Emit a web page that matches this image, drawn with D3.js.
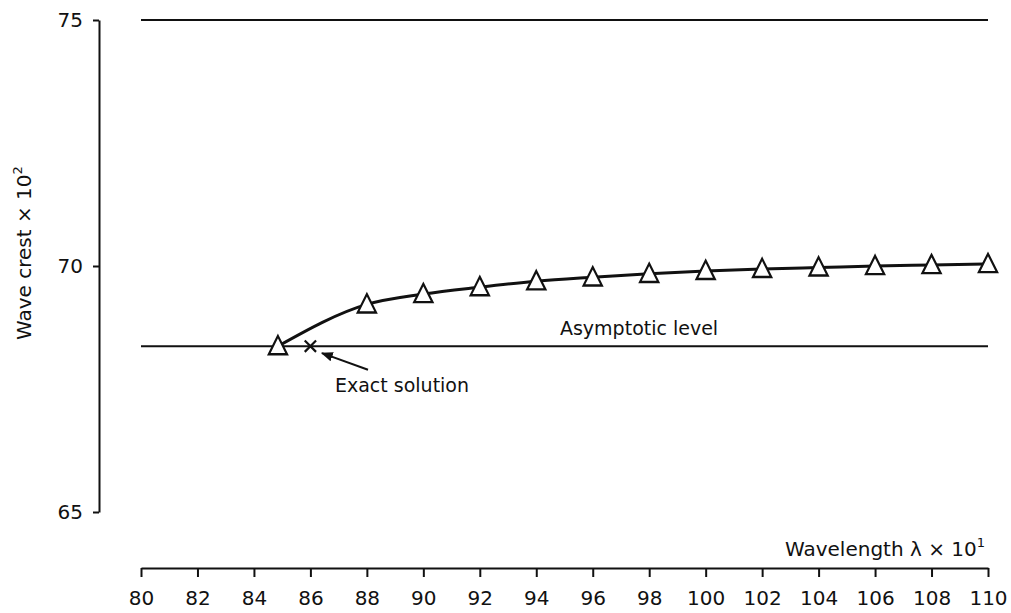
<!DOCTYPE html>
<meta charset="utf-8">
<style>
body { margin: 0; background: #fff; }
text { font-family: "DejaVu Sans", sans-serif; fill: #111; }
.axis path, .axis line { stroke: #111; stroke-width: 2; fill: none; }
.axis text { font-size: 20px; }
</style>
<body>
<script src="https://cdn.jsdelivr.net/npm/d3@7"></script>
<script>

// data
var xTicks = [80, 82, 84, 86, 88, 90, 92, 94, 96, 98, 100, 102, 104, 106, 108, 110];
var yTicks = [65, 70, 75];
var waveLength = [84.85, 88, 90, 92, 94, 96, 98, 100, 102, 104, 106, 108, 110];
var waveCrest  = [68.37, 69.22, 69.43, 69.57, 69.69, 69.77, 69.84, 69.90, 69.94, 69.97, 70.00, 70.02, 70.04];
var upperLevel = 75;
var asymptoticLevel = 68.37;
var exactSolution = [86, 68.37];

var width = 1011, height = 613;

var x = d3.scaleLinear().domain([80, 110]).range([141, 988]);
var y = d3.scaleLinear().domain([65, 75]).range([512, 20]);

var svg = d3.select("body").append("svg")
    .attr("width", width)
    .attr("height", height);

svg.append("defs").append("marker")
    .attr("id", "head")
    .attr("viewBox", "0 0 10 10")
    .attr("refX", 9).attr("refY", 5)
    .attr("markerWidth", 6).attr("markerHeight", 6)
    .attr("markerUnits", "strokeWidth")
    .attr("orient", "auto")
  .append("path")
    .attr("d", "M0,1L10,5L0,9z")
    .attr("fill", "#111");

// axes
var yAxis = d3.axisLeft(y).tickValues(yTicks).tickSize(6).tickSizeOuter(0).tickPadding(10);
svg.append("g")
    .attr("class", "axis")
    .attr("transform", "translate(99,0)")
    .call(yAxis);

var xAxis = d3.axisBottom(x).tickValues(xTicks).tickSize(9).tickSizeOuter(0).tickPadding(14);
svg.append("g")
    .attr("class", "axis")
    .attr("transform", "translate(0,568)")
    .call(xAxis);

// horizontal levels
[upperLevel, asymptoticLevel].forEach(function(v) {
  svg.append("line")
      .attr("x1", x(80)).attr("x2", x(110))
      .attr("y1", y(v)).attr("y2", y(v))
      .attr("stroke", "#111")
      .attr("stroke-width", 2);
});

var pts = waveLength.map(function(d, i) { return [d, waveCrest[i]]; });

var line = d3.line()
    .x(function(d) { return x(d[0]); })
    .y(function(d) { return y(d[1]); })
    .curve(d3.curveMonotoneX);

svg.append("path")
    .datum(pts)
    .attr("d", line)
    .attr("fill", "none")
    .attr("stroke", "#111")
    .attr("stroke-width", 3);

var tri = d3.symbol().type(d3.symbolTriangle).size(160);
svg.selectAll(".tri")
    .data(pts)
  .enter().append("path")
    .attr("class", "tri")
    .attr("transform", function(d) { return "translate(" + x(d[0]) + "," + (y(d[1]) + 2) + ") scale(0.95,1.1)"; })
    .attr("d", tri)
    .attr("fill", "#fff")
    .attr("stroke", "#111")
    .attr("stroke-width", 2.2);

// exact solution cross
svg.append("path")
    .attr("transform", "translate(" + x(exactSolution[0]) + "," + y(exactSolution[1]) + ") rotate(45)")
    .attr("d", "M-8,0H8M0,-8V8")
    .attr("stroke", "#111")
    .attr("stroke-width", 2.2);

svg.append("line")
    .attr("x1", x(88.04)).attr("y1", y(67.89))
    .attr("x2", x(86.41)).attr("y2", y(68.23))
    .attr("stroke", "#111")
    .attr("stroke-width", 2)
    .attr("marker-end", "url(#head)");

// labels
svg.append("text")
    .attr("x", x(86.87)).attr("y", y(67.44))
    .style("font-size", "19px")
    .text("Exact solution");

svg.append("text")
    .attr("x", x(94.84)).attr("y", y(68.6))
    .style("font-size", "19px")
    .text("Asymptotic level");

var xl = svg.append("text")
    .attr("x", 985).attr("y", 556)
    .attr("text-anchor", "end")
    .style("font-size", "20px");
xl.append("tspan").text("Wavelength λ × 10");
xl.append("tspan").attr("dy", -9).style("font-size", "13px").text("1");

var yl = svg.append("text")
    .attr("transform", "translate(31,340) rotate(-90)")
    .style("font-size", "20px");
yl.append("tspan").text("Wave crest × 10");
yl.append("tspan").attr("dy", -9).style("font-size", "13px").text("2");

</script>
</body>
